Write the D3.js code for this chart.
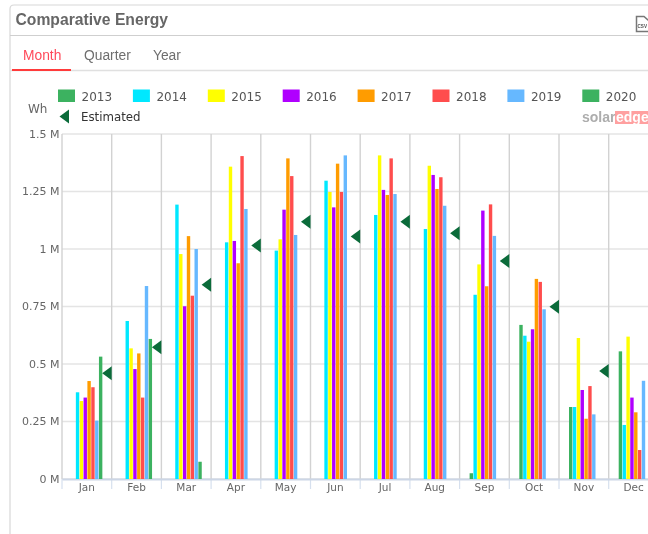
<!DOCTYPE html>
<html><head><meta charset="utf-8">
<script src="https://cdn.jsdelivr.net/npm/d3@7"></script>
<style>html,body{margin:0;padding:0;background:#fff;overflow:hidden}svg{display:block;filter:blur(0.3px)}</style>
</head><body><div id="c"></div>
<script>
const months=["Jan","Feb","Mar","Apr","May","Jun","Jul","Aug","Sep","Oct","Nov","Dec"];
const years=["2013","2014","2015","2016","2017","2018","2019","2020"];
const colors=["#3cb260","#00e8ff","#ffff00","#b000ff","#ff9c00","#ff4d4d","#66b8ff","#3cb260"];
const y2013=[null,null,null,null,null,null,null,null,0.025,0.67,0.313,0.555];
const y2014=[0.377,0.687,1.193,1.029,0.993,1.297,1.148,1.087,0.801,0.623,0.313,0.235];
const y2015=[0.339,0.568,0.978,1.358,1.042,1.248,1.407,1.362,0.933,0.597,0.613,0.619];
const y2016=[0.354,0.478,0.751,1.035,1.171,1.181,1.257,1.322,1.167,0.651,0.387,0.354];
const y2017=[0.426,0.546,1.056,0.938,1.394,1.371,1.235,1.261,0.838,0.87,0.262,0.29];
const y2018=[0.399,0.354,0.797,1.404,1.317,1.248,1.394,1.312,1.194,0.857,0.404,0.126];
const y2019=[0.254,0.839,1.0,1.174,1.061,1.407,1.239,1.188,1.057,0.738,0.281,0.427];
const y2020=[0.532,0.609,0.075,null,null,null,null,null,null,null,null,null];
const seriesValues=[y2013,y2014,y2015,y2016,y2017,y2018,y2019,y2020];
const estimated=[0.46,0.573,0.845,1.015,1.119,1.054,1.119,1.068,0.948,0.749,0.47,null];
const yTicks=[0,0.25,0.5,0.75,1,1.25,1.5];
const yTickLabels=["0 M","0.25 M","0.5 M","0.75 M","1 M","1.25 M","1.5 M"];
const tabs=["Month","Quarter","Year"];

const W=648,H=534;
const svg=d3.select("#c").append("svg").attr("width",W).attr("height",H);
const sans="Liberation Sans, Arial, sans-serif", dj="DejaVu Sans, Verdana, sans-serif";

// card frame
svg.append("path").attr("d","M648 5H14Q10 5 10 9V534").attr("fill","none").attr("stroke","#d8d8d8").attr("stroke-width",1.2);
svg.append("line").attr("x1",10).attr("x2",648).attr("y1",35.5).attr("y2",35.5).attr("stroke","#cfcfcf");
svg.append("text").attr("x",15.5).attr("y",25).attr("font-family",sans).attr("font-weight","bold").attr("font-size",15.7).attr("fill","#666").text("Comparative Energy");
svg.append("line").attr("x1",10).attr("x2",648).attr("y1",70.5).attr("y2",70.5).attr("stroke","#e0e0e0").attr("stroke-width",1.5);
svg.append("line").attr("x1",12).attr("x2",71).attr("y1",70).attr("y2",70).attr("stroke","#ff3b3b").attr("stroke-width",2);
svg.selectAll("text.tab").data(tabs).join("text").attr("class","tab")
  .attr("x",(d,i)=>[23,84,153][i]).attr("y",60).attr("font-family",sans).attr("font-size",13.8)
  .attr("fill",(d,i)=>i==0?"#ff4a5a":"#6e6e6e").text(d=>d);

// CSV icon
const ic=svg.append("g").attr("transform","translate(636,16)");
ic.append("path").attr("d","M0.5 0.5H8L13 5V15.5H0.5Z").attr("fill","#fff").attr("stroke","#777").attr("stroke-width",1.5);
ic.append("text").attr("x",1.5).attr("y",12).attr("font-family",sans).attr("font-weight","bold").attr("font-size",4.6).attr("fill","#555").text("CSV");

// scales
const x=d3.scaleBand().domain(months).range([62,62+12*49.7]);
const y=d3.scaleLinear().domain([0,1.5]).range([479,134]);
const xs=d3.scaleBand().domain(years).range([10,10+8*3.85]);

// grid
const plot=svg.append("g");
plot.selectAll("line.h").data(yTicks).join("line").attr("class","h")
  .attr("x1",62).attr("x2",W).attr("y1",d=>y(d)).attr("y2",d=>y(d)).attr("stroke","#e4e4e4").attr("stroke-width",1.6);
const bounds=d3.range(0,13).map(i=>62+i*x.step());
plot.selectAll("line.v").data(bounds).join("line").attr("class","v")
  .attr("x1",d=>d).attr("x2",d=>d).attr("y1",134).attr("y2",479).attr("stroke","#d2d2d2").attr("stroke-width",1.4);

// x axis
plot.selectAll("line.t").data(bounds).join("line").attr("class","t")
  .attr("x1",d=>d).attr("x2",d=>d).attr("y1",479).attr("y2",489).attr("stroke","#d6e0ee").attr("stroke-width",1.2);
const xa=svg.append("g").attr("transform","translate(0,479)").call(d3.axisBottom(x).tickSize(0).tickPadding(1));
xa.select(".domain").attr("stroke","#ccd6e6").attr("stroke-width",2);
xa.selectAll("text").attr("font-family",dj).attr("font-size",10.5).attr("fill","#666").attr("dy","1em");

// y axis
const ya=svg.append("g").attr("transform","translate(59.5,-0.5)").call(d3.axisLeft(y).tickValues(yTicks).tickSize(0).tickPadding(0).tickFormat((d,i)=>yTickLabels[i]));
ya.select(".domain").remove();
ya.selectAll("text").attr("font-family",dj).attr("font-size",11).attr("fill","#666");
svg.append("text").attr("x",28).attr("y",113).attr("font-family",dj).attr("font-size",12).attr("fill","#666").text("Wh");

// bars
const bw=3.4;
seriesValues.forEach((vals,si)=>{
  svg.append("g").selectAll("rect").data(vals.map((v,i)=>({v,m:months[i]})).filter(d=>d.v!=null)).join("rect")
    .attr("x",d=>x(d.m)+xs(years[si]))
    .attr("width",bw)
    .attr("y",d=>y(d.v))
    .attr("height",d=>y(0)-y(d.v))
    .attr("fill",colors[si]);
});

// estimated markers
const tri=(cx,cy)=>`M${cx-5} ${cy}L${cx+4.5} ${cy-7}V${cy+7}Z`;
svg.append("g").selectAll("path").data(estimated.map((v,i)=>({v,m:months[i]})).filter(d=>d.v!=null)).join("path")
  .attr("d",d=>tri(x(d.m)+x.bandwidth()-4.5,y(d.v))).attr("fill","#0b6b3a");

// legend
const lg=svg.append("g");
lg.selectAll("rect").data(years).join("rect").attr("x",(d,i)=>58+i*74.9).attr("y",89.5).attr("width",17).attr("height",12.5).attr("fill",(d,i)=>colors[i]);
lg.selectAll("text").data(years).join("text").attr("x",(d,i)=>81.5+i*74.9).attr("y",101).attr("font-family",dj).attr("font-size",12).attr("fill","#555").text(d=>d);
lg.append("path").attr("d",tri(64.5,116.5)).attr("fill","#0b6b3a");
lg.append("text").attr("x",81).attr("y",120.5).attr("font-family",dj).attr("font-size",11.8).attr("fill","#333").text("Estimated");

// logo
svg.append("rect").attr("x",615).attr("y",111).attr("width",33).attr("height",13).attr("fill","#ffa0a0");
svg.append("text").attr("x",582).attr("y",122).attr("font-family",sans).attr("font-weight","bold").attr("font-size",14).attr("fill","#adadad").text("solar");
svg.append("text").attr("x",616).attr("y",122).attr("font-family",sans).attr("font-weight","bold").attr("font-size",14).attr("fill","#fff").text("edge");
</script></body></html>
